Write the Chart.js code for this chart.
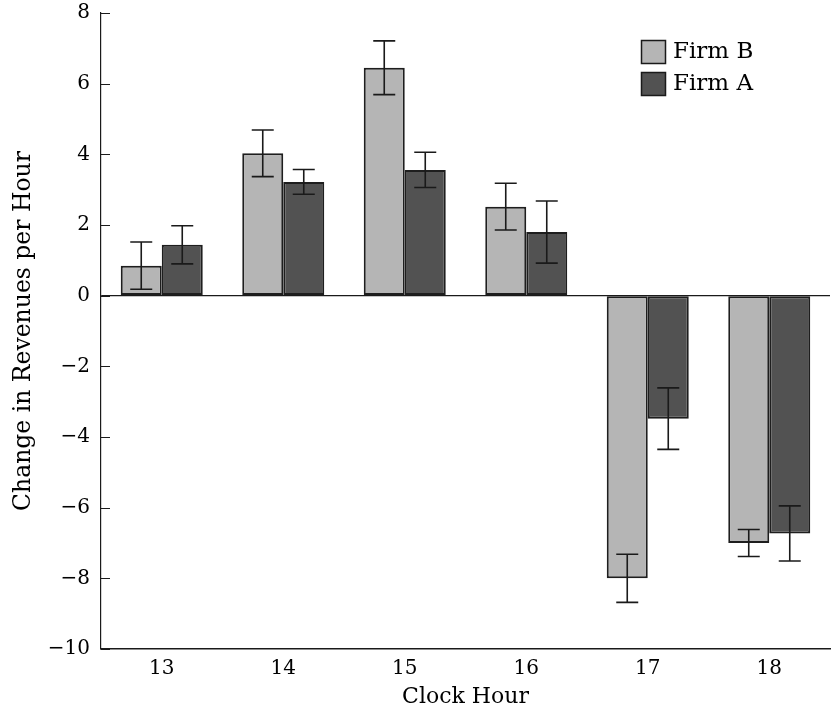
<!DOCTYPE html>
<html>
<head>
<meta charset="utf-8">
<script src="https://cdn.jsdelivr.net/npm/chart.js@4.4.0/dist/chart.umd.min.js"></script>
<style>
html,body{margin:0;padding:0;background:#fff;}
#wrap{width:831px;height:712px;position:relative;}
</style>
</head>
<body>
<div id="wrap"><canvas id="c" width="831" height="712"></canvas></div>
<script>
const hours = ['13', '14', '15', '16', '17', '18'];
const firmB = [0.85, 4.03, 6.45, 2.52, -8.0, -7.0];
const firmBErr = [0.67, 0.66, 0.76, 0.66, 0.68, 0.38];
const firmA = [1.44, 3.22, 3.56, 1.80, -3.48, -6.73];
const firmAErr = [0.54, 0.35, 0.50, 0.88, 0.87, 0.78];
const seriesLabels = ['Firm B', 'Firm A'];
const yMin = -10, yMax = 8, yStep = 2;

const FONT = "'DejaVu Serif', 'Liberation Serif', serif";
const errs = [firmBErr, firmAErr];

const errorBars = {
  id: 'errorBars',
  afterDatasetsDraw(chart) {
    const ctx = chart.ctx, y = chart.scales.y;
    ctx.save();
    ctx.strokeStyle = '#1a1a1a';
    ctx.lineWidth = 1.6;
    chart.data.datasets.forEach((ds, i) => {
      const meta = chart.getDatasetMeta(i);
      meta.data.forEach((bar, j) => {
        const v = ds.data[j], e = errs[i][j];
        const x = bar.x;
        const yt = y.getPixelForValue(v + e), yb = y.getPixelForValue(v - e);
        ctx.beginPath();
        ctx.moveTo(x, yt); ctx.lineTo(x, yb);
        ctx.moveTo(x - 11, yt); ctx.lineTo(x + 11, yt);
        ctx.moveTo(x - 11, yb); ctx.lineTo(x + 11, yb);
        ctx.stroke();
      });
    });
    ctx.restore();
  }
};

const innerTicks = {
  id: 'innerTicks',
  afterDraw(chart) {
    const ctx = chart.ctx, y = chart.scales.y, a = chart.chartArea;
    ctx.save();
    ctx.strokeStyle = '#1a1a1a';
    ctx.lineWidth = 1;
    y.ticks.forEach(t => {
      const py = Math.round(y.getPixelForValue(t.value)) + 0.5;
      ctx.beginPath();
      ctx.moveTo(a.left, py); ctx.lineTo(a.left + 9, py);
      ctx.stroke();
    });
    // legend
    const lx = 641, ly = [40, 72];
    chart.data.datasets.forEach((ds, i) => {
      ctx.fillStyle = ds.backgroundColor;
      ctx.fillRect(lx, ly[i], 25, 24);
      ctx.strokeStyle = '#1a1a1a';
      ctx.lineWidth = 1.5;
      ctx.strokeRect(lx + 0.5, ly[i] + 0.5, 24, 23);
      ctx.fillStyle = '#000';
      ctx.font = '23px ' + FONT;
      ctx.textBaseline = 'middle';
      ctx.textAlign = 'left';
      ctx.fillText(ds.label, lx + 32, ly[i] + 12);
    });
    ctx.restore();
  }
};

new Chart(document.getElementById('c'), {
  type: 'bar',
  data: {
    labels: hours,
    datasets: [
      { label: seriesLabels[0], data: firmB, backgroundColor: '#b5b5b5', borderColor: '#1e1e1e', borderWidth: 2, borderSkipped: false },
      { label: seriesLabels[1], data: firmA, backgroundColor: '#525252', borderColor: '#1e1e1e', borderWidth: 2, borderSkipped: false }
    ]
  },
  options: {
    responsive: false,
    animation: false,
    devicePixelRatio: 1,
    layout: { padding: { left: 0, right: 1, top: 13, bottom: 0 } },
    plugins: { legend: { display: false }, tooltip: { enabled: false } },
    datasets: { bar: { categoryPercentage: 0.675, barPercentage: 1.0 } },
    scales: {
      x: {
        grid: { display: false, drawTicks: false },
        border: { display: true, color: '#1a1a1a', width: 1.5 },
        ticks: { color: '#000', font: { family: FONT, size: 20 }, padding: 8 },
        title: { display: true, text: 'Clock Hour', color: '#000', font: { family: FONT, size: 22 }, padding: { top: 0, bottom: 2 } },
        afterFit(s) { s.height = 63; s.paddingLeft = 0; s.paddingRight = 0; }
      },
      y: {
        min: yMin, max: yMax,
        grid: {
          drawTicks: false,
          color: c => c.tick && c.tick.value === 0 ? '#1a1a1a' : 'rgba(0,0,0,0)',
          lineWidth: 1.2
        },
        border: { display: true, color: '#1a1a1a', width: 1.2 },
        ticks: {
          stepSize: yStep, color: '#000', font: { family: FONT, size: 20 }, padding: 11,
          callback: v => String(v).replace('-', '\u2212')
        },
        title: { display: true, text: 'Change in Revenues per Hour', color: '#000', font: { family: FONT, size: 23.5 }, padding: { top: 10, bottom: 0 } },
        afterFit(s) { s.width = 101; s.paddingTop = 0; s.paddingBottom = 0; }
      }
    }
  },
  plugins: [errorBars, innerTicks]
});
</script>
</body>
</html>
